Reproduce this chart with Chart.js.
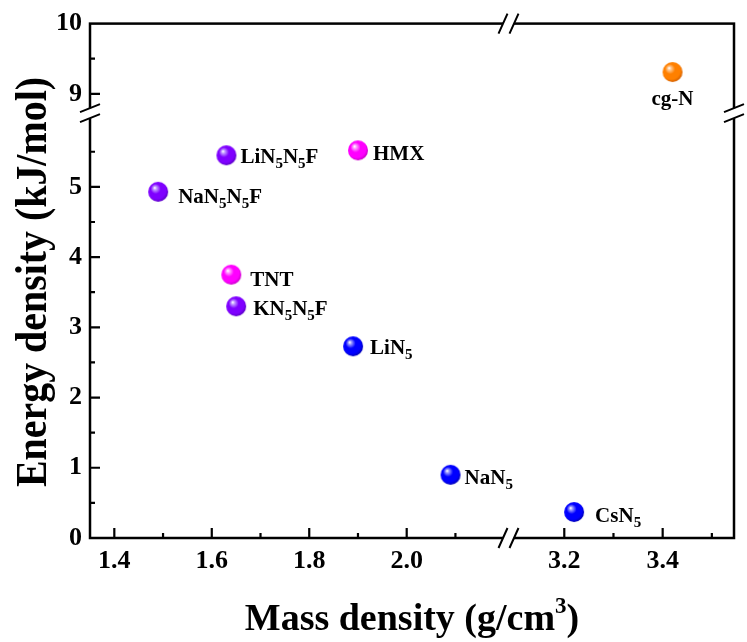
<!DOCTYPE html>
<html><head><meta charset="utf-8">
<script src="https://cdn.jsdelivr.net/npm/chart.js@4.4.1/dist/chart.umd.min.js"></script>
<style>html,body{margin:0;padding:0;background:#fff;}canvas{display:block;}</style>
</head><body>
<canvas id="c" width="747" height="642"></canvas>
<script>
// ---------- data ----------
const purpleNames  = ['LiN_5N_5F', 'NaN_5N_5F', 'KN_5N_5F'];
const purpleMass   = [1.63, 1.49, 1.65];
const purpleEnergy = [5.45, 4.93, 3.30];

const magentaNames  = ['HMX', 'TNT'];
const magentaMass   = [1.90, 1.64];
const magentaEnergy = [5.52, 3.75];

const blueNames  = ['LiN_5', 'NaN_5'];
const blueMass   = [1.89, 2.09];
const blueEnergy = [2.73, 0.90];

const blueFarNames  = ['CsN_5'];
const blueFarMass   = [3.22];
const blueFarEnergy = [0.37];

const orangeNames  = ['cg-N'];
const orangeMass   = [3.42];
const orangeEnergy = [9.31];

// tick values
const xLeftTicks  = [1.4, 1.6, 1.8, 2.0];
const xLeftMinor  = [1.5, 1.7, 1.9, 2.1];
const xRightTicks = [3.2, 3.4];
const xRightMinor = [3.3, 3.5];
const yLowTicks   = [0, 1, 2, 3, 4, 5];
const yLowMinor   = [0.5, 1.5, 2.5, 3.5, 4.5, 5.5];
const yHighTicks  = [9, 10];
const yHighMinor  = [9.5];

// label offsets (pixels relative to the point) - style only
const purpleLabelOff  = [[14, 8], [20, 11], [17, 9]];
const magentaLabelOff = [[15, 10], [19, 11]];
const blueLabelOff    = [[17, 8], [14, 9]];
const blueFarLabelOff = [[21, 10]];
const orangeLabelOff  = [[0, 33]];

const SERIF = '"Liberation Serif", "Times New Roman", serif';

function sphere(base, dark, light) {
  const r = 10, s = 24;
  const c = document.createElement('canvas');
  c.width = s; c.height = s;
  const g = c.getContext('2d');
  const cx = s / 2, cy = s / 2;
  const grad = g.createRadialGradient(cx - 3.5, cy - 4, 0.3, cx - 1, cy - 1.5, r + 1.5);
  grad.addColorStop(0, '#ffffff');
  grad.addColorStop(0.12, light);
  grad.addColorStop(0.42, base);
  grad.addColorStop(0.8, base);
  grad.addColorStop(1, dark);
  g.fillStyle = grad;
  g.beginPath(); g.arc(cx, cy, r, 0, Math.PI * 2); g.fill();
  return c;
}

const purpleBall  = sphere('#7f00ff', '#5a00c4', '#c4a0ff');
const magentaBall = sphere('#ff00ff', '#c800c8', '#ffa8ff');
const blueBall    = sphere('#0000ff', '#0000b4', '#a0a0ff');
const orangeBall  = sphere('#ff8000', '#d46000', '#ffcc99');

function makeSet(names, xs, ys, ball, xId, yId, offs, align) {
  return {
    data: names.map((n, i) => ({ x: xs[i], y: ys[i] })),
    names: names, offs: offs, align: align || 'left',
    xAxisID: xId, yAxisID: yId,
    pointStyle: ball, pointRadius: 10, pointHoverRadius: 10,
    showLine: false
  };
}

const datasets = [
  makeSet(purpleNames, purpleMass, purpleEnergy, purpleBall, 'xL', 'yL', purpleLabelOff),
  makeSet(magentaNames, magentaMass, magentaEnergy, magentaBall, 'xL', 'yL', magentaLabelOff),
  makeSet(blueNames, blueMass, blueEnergy, blueBall, 'xL', 'yL', blueLabelOff),
  makeSet(blueFarNames, blueFarMass, blueFarEnergy, blueBall, 'xR', 'yL', blueFarLabelOff),
  makeSet(orangeNames, orangeMass, orangeEnergy, orangeBall, 'xR', 'yH', orangeLabelOff, 'center')
];

function parseRich(s) {
  const parts = []; let buf = '';
  for (let i = 0; i < s.length; i++) {
    if (s[i] === '_') {
      if (buf) parts.push({ t: buf, sub: false });
      buf = '';
      parts.push({ t: s[i + 1], sub: true }); i++;
    } else buf += s[i];
  }
  if (buf) parts.push({ t: buf, sub: false });
  return parts;
}

function drawRich(ctx, str, x, y, align, size, subSize, subShift) {
  const parts = parseRich(str);
  const fMain = 'bold ' + size + 'px ' + SERIF;
  const fSub = 'bold ' + subSize + 'px ' + SERIF;
  let total = 0;
  parts.forEach(p => { ctx.font = p.sub ? fSub : fMain; p.w = ctx.measureText(p.t).width; total += p.w; });
  let cx = align === 'center' ? x - total / 2 : x;
  ctx.textAlign = 'left';
  ctx.textBaseline = 'alphabetic';
  ctx.fillStyle = '#000';
  parts.forEach(p => {
    ctx.font = p.sub ? fSub : fMain;
    ctx.fillText(p.t, cx, p.sub ? y + subShift : y);
    cx += p.w;
  });
}

const framePlugin = {
  id: 'frame',
  beforeDraw(chart) {
    const ctx = chart.ctx;
    ctx.save(); ctx.fillStyle = '#fff'; ctx.fillRect(0, 0, chart.width, chart.height); ctx.restore();
  },
  beforeDatasetsDraw(chart) {
    const ctx = chart.ctx, ca = chart.chartArea, s = chart.scales;
    ctx.save();
    ctx.strokeStyle = '#000';
    ctx.lineWidth = 2.5;
    ctx.lineCap = 'butt';
    ctx.strokeRect(ca.left, ca.top, ca.right - ca.left, ca.bottom - ca.top);
    // ticks (inward)
    ctx.lineWidth = 2.2;
    ctx.beginPath();
    const xt = (sc, vals, len) => vals.forEach(v => { const p = sc.getPixelForValue(v); ctx.moveTo(p, ca.bottom); ctx.lineTo(p, ca.bottom - len); });
    const yt = (sc, vals, len) => vals.forEach(v => { const p = sc.getPixelForValue(v); ctx.moveTo(ca.left, p); ctx.lineTo(ca.left + len, p); });
    xt(s.xL, xLeftTicks, 10); xt(s.xL, xLeftMinor, 5);
    xt(s.xR, xRightTicks, 10); xt(s.xR, xRightMinor, 5);
    yt(s.yL, yLowTicks.filter(v => v > 0), 10); yt(s.yL, yLowMinor, 5);
    yt(s.yH, yHighTicks.filter(v => v < 10), 10); yt(s.yH, yHighMinor, 5);
    ctx.stroke();
    // axis breaks
    const bx = s.xL.right, by = s.yH.bottom;
    ctx.fillStyle = '#fff';
    [ca.top, ca.bottom].forEach(yy => {
      ctx.fillRect(bx - 5.5, yy - 3, 11, 6);
    });
    [ca.left, ca.right].forEach(xx => {
      ctx.fillRect(xx - 3, by - 5, 6, 10);
    });
    ctx.lineWidth = 2;
    ctx.beginPath();
    [ca.top, ca.bottom].forEach(yy => {
      [-5.5, 5.5].forEach(d => {
        ctx.moveTo(bx + d - 4.5, yy + 10); ctx.lineTo(bx + d + 4.5, yy - 10);
      });
    });
    [ca.left, ca.right].forEach(xx => {
      [-5, 5].forEach(d => {
        ctx.moveTo(xx - 10, by + d + 4); ctx.lineTo(xx + 10, by + d - 4);
      });
    });
    ctx.stroke();
    ctx.restore();
  },
  afterDatasetsDraw(chart) {
    const ctx = chart.ctx;
    ctx.save();
    chart.data.datasets.forEach((ds, i) => {
      const meta = chart.getDatasetMeta(i);
      meta.data.forEach((pt, j) => {
        const o = ds.offs[j];
        drawRich(ctx, ds.names[j], pt.x + o[0], pt.y + o[1], ds.align, 21, 15, 5);
      });
    });
    ctx.restore();
  },
  afterDraw(chart) {
    const ctx = chart.ctx, ca = chart.chartArea;
    ctx.save();
    ctx.fillStyle = '#000';
    ctx.textBaseline = 'alphabetic';
    // x title with superscript
    const main = 'bold 38px ' + SERIF, sup = 'bold 23px ' + SERIF;
    const a = 'Mass density (g/cm', b = '3', c = ')';
    ctx.font = main; const wa = ctx.measureText(a).width, wc = ctx.measureText(c).width;
    ctx.font = sup; const wb = ctx.measureText(b).width;
    let x0 = (ca.left + ca.right) / 2 - (wa + wb + wc) / 2;
    const yb = 630;
    ctx.textAlign = 'left';
    ctx.font = main; ctx.fillText(a, x0, yb);
    ctx.font = sup; ctx.fillText(b, x0 + wa, yb - 17);
    ctx.font = main; ctx.fillText(c, x0 + wa + wb, yb);
    // y title
    const yt = 'Energy density (kJ/mol)';
    ctx.font = 'bold 45px ' + SERIF;
    const w = ctx.measureText(yt).width;
    ctx.translate(46, 282);
    ctx.rotate(-Math.PI / 2);
    ctx.scale(410 / w, 1);
    ctx.textAlign = 'center';
    ctx.fillText(yt, 0, 0);
    ctx.restore();
  }
};

const tickFont = { family: SERIF, weight: 'bold', size: 26 };

function yAxis(min, max, weight, order, ticksArr) {
  return {
    type: 'linear', position: 'left', stack: 'y', stackWeight: weight, weight: order,
    min: min, max: max,
    grid: { display: false, drawTicks: false }, border: { display: false },
    ticks: { font: tickFont, color: '#000', padding: 8, autoSkip: false },
    afterBuildTicks: sc => { sc.ticks = ticksArr.map(v => ({ value: v })); },
    afterFit: sc => { sc.width = 90; }
  };
}
function xAxis(min, max, weight, order, ticksArr) {
  return {
    type: 'linear', position: 'bottom', stack: 'x', stackWeight: weight, weight: order,
    min: min, max: max,
    grid: { display: false, drawTicks: false }, border: { display: false },
    ticks: { font: tickFont, color: '#000', padding: 8, autoSkip: false, maxRotation: 0,
             callback: v => v.toFixed(1) },
    afterBuildTicks: sc => { sc.ticks = ticksArr.map(v => ({ value: v })); },
    afterFit: sc => { sc.height = 104; }
  };
}

new Chart(document.getElementById('c'), {
  type: 'scatter',
  data: { datasets: datasets },
  options: {
    responsive: false,
    animation: false,
    layout: { padding: { top: 18, right: 13, left: 0, bottom: 0 } },
    plugins: { legend: { display: false }, tooltip: { enabled: false } },
    scales: {
      xL: xAxis(1.3501, 2.2089, 418.5, 0, xLeftTicks),
      xR: xAxis(3.0866, 3.545, 225.5, 1, xRightTicks),
      yH: yAxis(8.725, 10, 90.5, 1, yHighTicks),
      yL: yAxis(0, 6.05, 429.5, 0, yLowTicks)
    }
  },
  plugins: [framePlugin]
});
</script>
</body></html>
